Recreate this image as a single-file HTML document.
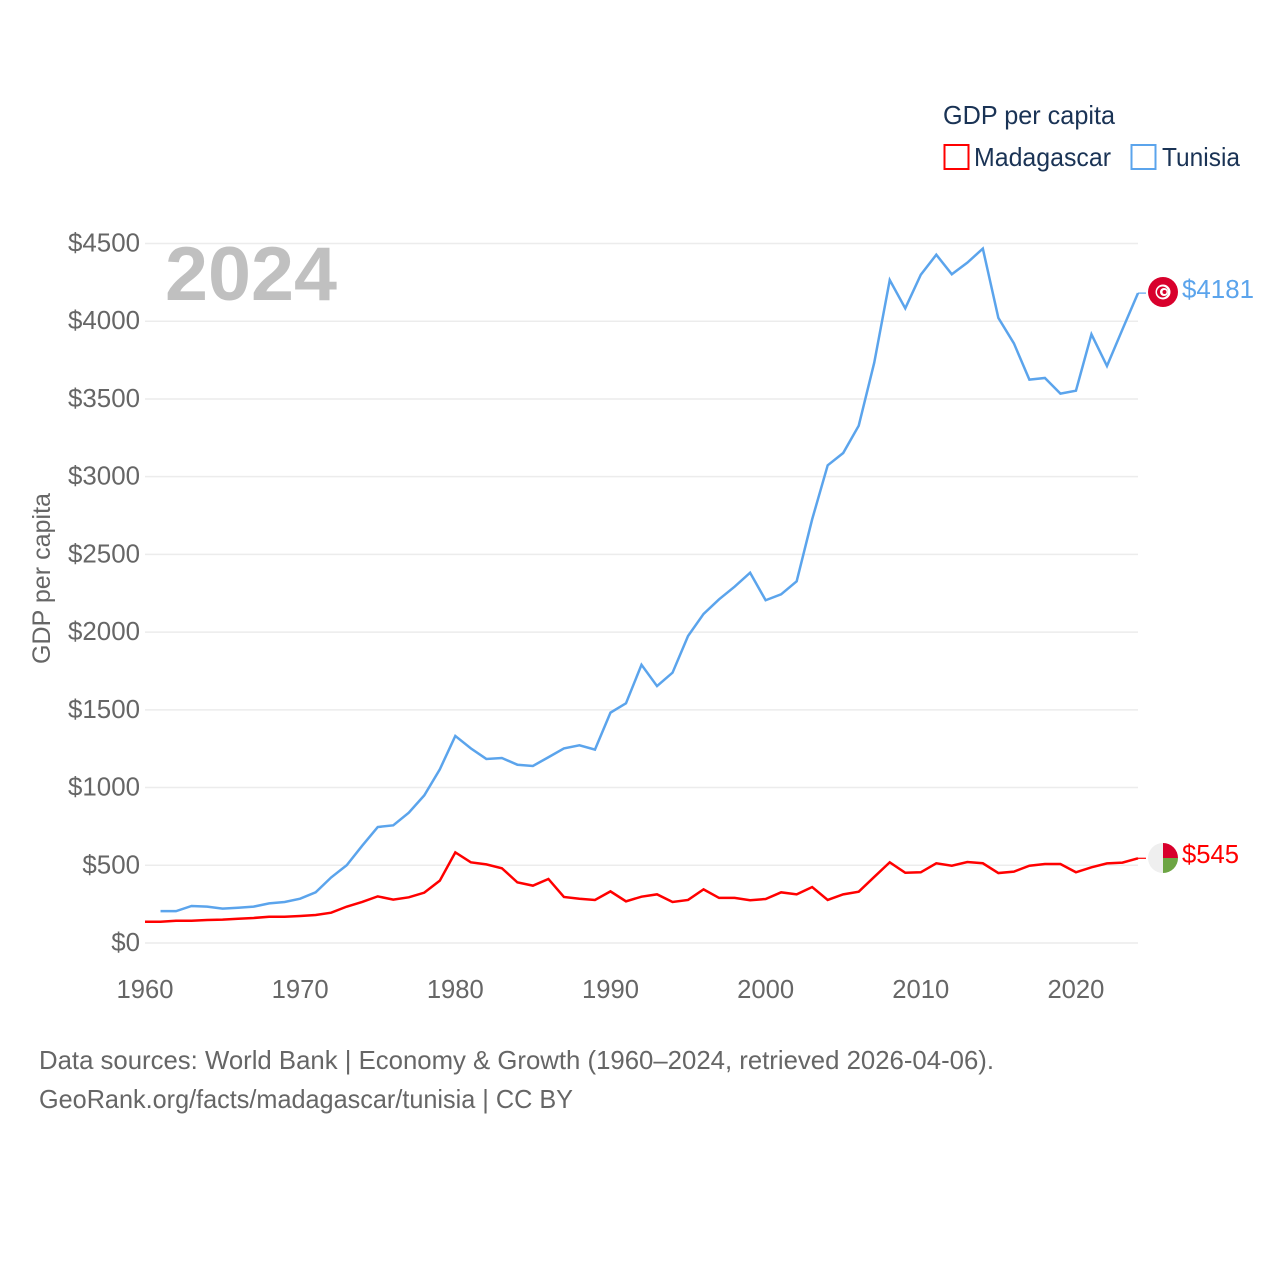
<!DOCTYPE html>
<html lang="en">
<head>
<meta charset="utf-8">
<title>GDP per capita: Madagascar and Tunisia</title>
<style>
html,body{margin:0;padding:0;background:#fff;}
svg{display:block;}
text{font-family:"Liberation Sans",sans-serif;}
</style>
</head>
<body>
<svg id="chart" xmlns="http://www.w3.org/2000/svg" width="1280" height="1280" viewBox="0 0 1280 1280">
  <rect x="0" y="0" width="1280" height="1280" fill="#ffffff"/>
  <g id="grid"></g>
  <g id="yticks"></g>
  <g id="xticks"></g>
  <text x="165" y="300" font-size="76" font-weight="700" fill="#c0c0c0" textLength="172" lengthAdjust="spacingAndGlyphs">2024</text>
  <text transform="translate(50,664) rotate(-90)" font-size="25" fill="#666666" textLength="171" lengthAdjust="spacingAndGlyphs">GDP per capita</text>
  <g id="series"></g>

  <g>
    <circle cx="1163" cy="292" r="15" fill="#d8002c"/>
    <circle cx="1163" cy="292" r="7.5" fill="#ffffff"/>
    <circle cx="1162.5" cy="292" r="5.5" fill="#d8002c"/>
    <circle cx="1164" cy="292" r="4" fill="#ffffff"/>
    <circle cx="1164.5" cy="292" r="2" fill="#d8002c"/>
  </g>
  <g>
    <path d="M1163 843 A15 15 0 0 0 1163 873 Z" fill="#efefef"/>
    <path d="M1163 843 A15 15 0 0 1 1178 858 L1163 858 Z" fill="#d8002c"/>
    <path d="M1163 858 L1178 858 A15 15 0 0 1 1163 873 Z" fill="#6da544"/>
  </g>
  <text x="1182" y="298" font-size="26" fill="#5ba4ec" textLength="72" lengthAdjust="spacingAndGlyphs">$4181</text>
  <text x="1182" y="863" font-size="26" fill="#ff0000" textLength="57" lengthAdjust="spacingAndGlyphs">$545</text>

  <g>
    <text x="943" y="124" font-size="26" fill="#1a3355" textLength="172" lengthAdjust="spacingAndGlyphs">GDP per capita</text>
    <rect x="944.5" y="145" width="24" height="24" fill="none" stroke="#ff0000" stroke-width="2"/>
    <text x="974" y="166" font-size="26" fill="#1a3355" textLength="137" lengthAdjust="spacingAndGlyphs">Madagascar</text>
    <rect x="1131.5" y="145" width="24" height="24" fill="none" stroke="#5ba4ec" stroke-width="2"/>
    <text x="1162" y="166" font-size="26" fill="#1a3355" textLength="78" lengthAdjust="spacingAndGlyphs">Tunisia</text>
  </g>

  <text x="39" y="1069" font-size="26" fill="#666666" textLength="955" lengthAdjust="spacingAndGlyphs">Data sources: World Bank | Economy &amp; Growth (1960–2024, retrieved 2026-04-06).</text>
  <text x="39" y="1108" font-size="26" fill="#666666" textLength="534" lengthAdjust="spacingAndGlyphs">GeoRank.org/facts/madagascar/tunisia | CC BY</text>
</svg>
<script>
const yTickValues = [0, 500, 1000, 1500, 2000, 2500, 3000, 3500, 4000, 4500];
const yTickLabels = ["$0", "$500", "$1000", "$1500", "$2000", "$2500", "$3000", "$3500", "$4000", "$4500"];
const xTickYears = [1960, 1970, 1980, 1990, 2000, 2010, 2020];
const xTickLabels = ["1960", "1970", "1980", "1990", "2000", "2010", "2020"];
const madagascarYears = [1960,1961,1962,1963,1964,1965,1966,1967,1968,1969,1970,1971,1972,1973,1974,1975,1976,1977,1978,1979,1980,1981,1982,1983,1984,1985,1986,1987,1988,1989,1990,1991,1992,1993,1994,1995,1996,1997,1998,1999,2000,2001,2002,2003,2004,2005,2006,2007,2008,2009,2010,2011,2012,2013,2014,2015,2016,2017,2018,2019,2020,2021,2022,2023,2024];
const madagascarValues = [137,137,143,143,148,150,156,161,169,169,174,180,195,234,264,300,279,294,324,401,583,519,506,481,390,369,412,296,285,277,332,268,298,313,264,277,345,290,290,275,283,326,313,360,277,313,330,425,519,452,455,513,497,521,513,450,459,497,508,508,455,487,512,517,545];
const tunisiaYears = [1961,1962,1963,1964,1965,1966,1967,1968,1969,1970,1971,1972,1973,1974,1975,1976,1977,1978,1979,1980,1981,1982,1983,1984,1985,1986,1987,1988,1989,1990,1991,1992,1993,1994,1995,1996,1997,1998,1999,2000,2001,2002,2003,2004,2005,2006,2007,2008,2009,2010,2011,2012,2013,2014,2015,2016,2017,2018,2019,2020,2021,2022,2023,2024];
const tunisiaValues = [205,205,238,234,221,227,234,255,264,285,326,422,500,626,746,757,838,950,1117,1332,1252,1184,1190,1147,1139,1195,1252,1272,1244,1482,1542,1790,1653,1739,1975,2117,2211,2292,2382,2205,2243,2327,2726,3073,3152,3328,3733,4265,4083,4299,4428,4302,4377,4467,4021,3858,3624,3635,3534,3553,3916,3712,3948,4181];

const NS = "http://www.w3.org/2000/svg";
function xScale(year) { return 145 + (year - 1960) * (1138 - 145) / 64; }
function yScale(value) { return 943 - value * (943 - 243.5) / 4500; }
function make(tag, attrs, parent) {
  const el = document.createElementNS(NS, tag);
  for (const k in attrs) el.setAttribute(k, attrs[k]);
  parent.appendChild(el);
  return el;
}
const gridGroup = document.getElementById("grid");
const yGroup = document.getElementById("yticks");
const xGroup = document.getElementById("xticks");
const seriesGroup = document.getElementById("series");

yTickValues.forEach(function (v, i) {
  const line = make("line", {x1: 145, x2: 1138, y1: yScale(v), y2: yScale(v), stroke: "#ececec", "stroke-width": 1.5}, gridGroup);
  
  
  const label = yTickLabels[i];
  const t = make("text", {x: 140, y: yScale(v) + 8, "font-size": 26, fill: "#666666", "text-anchor": "end", textLength: 14.4 * label.length, lengthAdjust: "spacingAndGlyphs"}, yGroup);
  t.textContent = label;
  
  
});

xTickYears.forEach(function (yr, i) {
  const t = make("text", {x: xScale(yr), y: 998, "font-size": 26, fill: "#666666", "text-anchor": "middle", textLength: 57, lengthAdjust: "spacingAndGlyphs"}, xGroup);
  t.textContent = xTickLabels[i];
  
  
});

function linePath(years, values) {
  return years.map(function (yr, i) {
    return (i ? "L" : "M") + xScale(yr).toFixed(2) + " " + yScale(values[i]).toFixed(2);
  }).join(" ");
}
function endY(values) { return yScale(values[values.length - 1]); }

const tunisiaLine = make("path", {d: linePath(tunisiaYears, tunisiaValues), fill: "none", stroke: "#5ba4ec", "stroke-width": 2.5, "stroke-linejoin": "miter"}, seriesGroup);


const tunisiaLeader = make("line", {x1: xScale(2024), x2: 1146, y1: endY(tunisiaValues), y2: endY(tunisiaValues), stroke: "#5ba4ec", "stroke-width": 1.2}, seriesGroup);



const madagascarLine = make("path", {d: linePath(madagascarYears, madagascarValues), fill: "none", stroke: "#ff0000", "stroke-width": 2.5, "stroke-linejoin": "miter"}, seriesGroup);


const madagascarLeader = make("line", {x1: xScale(2024), x2: 1146, y1: endY(madagascarValues), y2: endY(madagascarValues), stroke: "#ff0000", "stroke-width": 1.2}, seriesGroup);


</script>
</body>
</html>
